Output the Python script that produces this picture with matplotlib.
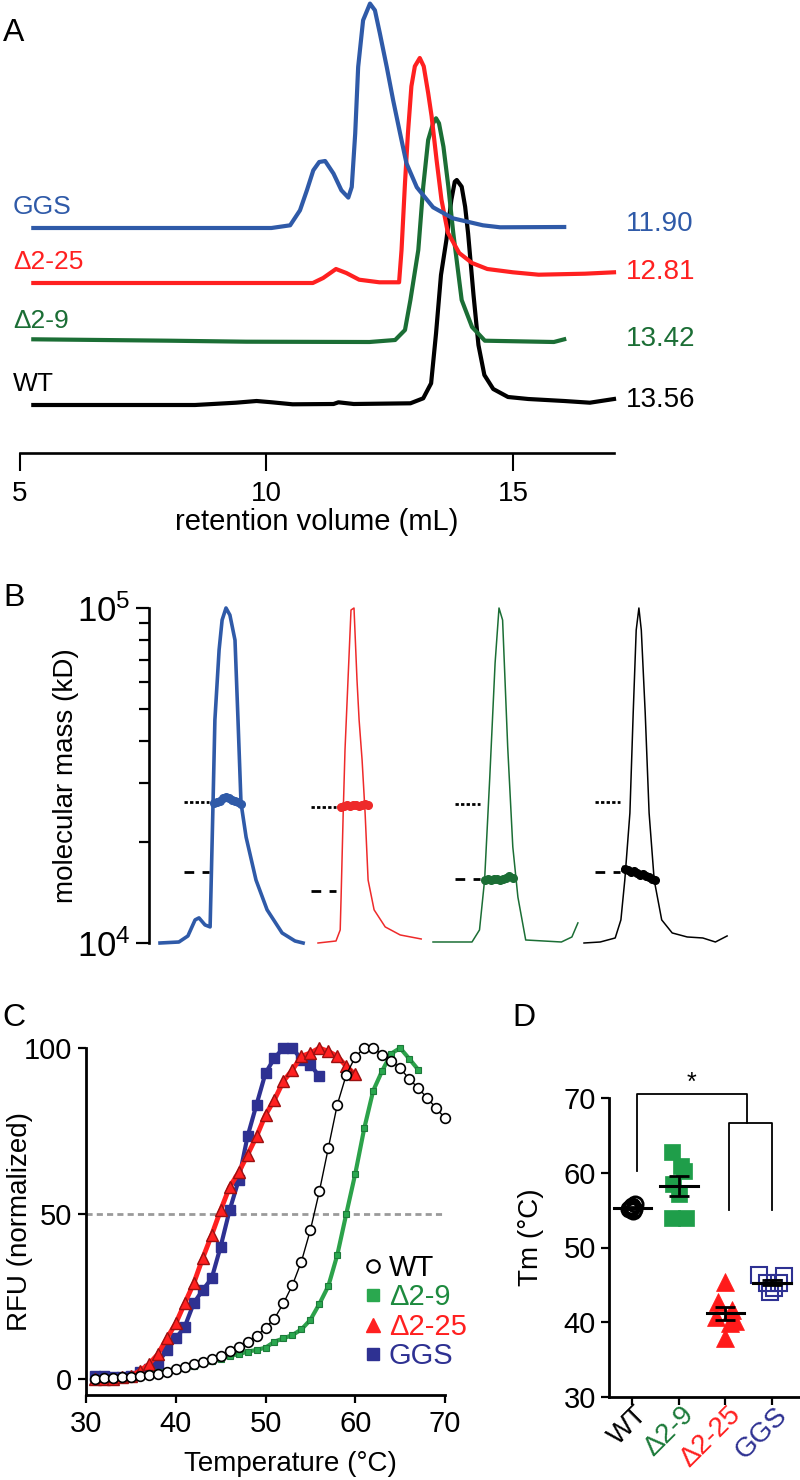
import numpy as np
import matplotlib
matplotlib.use('Agg')
import matplotlib.pyplot as plt
from matplotlib.lines import Line2D
from matplotlib.ticker import NullFormatter

plt.rcParams['font.family'] = ['Liberation Sans', 'DejaVu Sans']
plt.rcParams['axes.unicode_minus'] = False

# ---------------- DATA ----------------
# Panel A: size-exclusion chromatograms (retention volume mL, signal a.u.)
sec_names = ['WT', 'Δ2-9', 'Δ2-25', 'GGS']
sec_peak_labels = ['13.56', '13.42', '12.81', '11.90']
sec_ticks = [5, 10, 15]

sec_vol_ggs = [5.27, 10.1, 10.48, 10.68, 10.82, 10.95, 11.07, 11.19, 11.36, 11.52, 11.66, 11.73, 11.8,
               11.86, 11.96, 12.1, 12.2, 12.3, 12.44, 12.57, 12.71, 12.84, 13.05, 13.38, 13.78, 14.39,
               14.74, 16.04]
sec_sig_ggs = [0, 0, 2.7, 17.7, 37.7, 57.7, 66, 67, 54.4, 37.7, 30.4, 41, 94.4,
               161, 207.7, 224.4, 217.7, 194.7, 161, 127.7, 94.7, 64.7, 40.7, 20.7, 9.7, 2.7,
               0.7, 1]

sec_vol_d225 = [5.27, 10.94, 11.15, 11.41, 11.62, 11.88, 12.29, 12.69, 12.74, 12.81, 12.87, 12.94,
                13.01, 13.11, 13.19, 13.28, 13.35, 13.45, 13.55, 13.68, 13.91, 14.17, 14.48, 15.0,
                15.52, 16.46, 17.05]
sec_sig_d225 = [0, 0, 5, 14, 10, 3.3, 0.7, 0.7, 33, 100, 150, 196.7,
                216.7, 225, 216.7, 190, 166.7, 123.3, 83.3, 50.3, 30, 20, 14, 10.7,
                8.3, 9.3, 10.7]

sec_vol_d29 = [5.27, 8.03, 9.59, 12.09, 12.61, 12.81, 12.92, 13.08, 13.18, 13.28, 13.38, 13.44,
               13.5, 13.59, 13.69, 13.79, 13.96, 14.17, 14.43, 15.83, 16.04]
sec_sig_d29 = [2.7, 1.3, 0.3, 0, 2, 12, 42, 92, 155.3, 202, 218.7, 223.7,
               218.7, 195.3, 155.3, 108.7, 42, 15, 1.3, 0, 2.7]

sec_vol_wt = [5.27, 8.55, 9.38, 9.8, 10.11, 10.53, 11.36, 11.46, 11.77, 12.92, 13.18, 13.34, 13.44,
              13.54, 13.65, 13.75, 13.82, 13.86, 13.96, 14.03, 14.09, 14.2, 14.3, 14.42, 14.6, 14.9,
              15.31, 16.04, 16.56, 17.05]
sec_sig_wt = [0, 0, 2.3, 4, 2.7, 0.7, 1, 2.7, 1, 1.7, 6.7, 21.7, 71.7,
              130, 165, 205, 223.3, 225, 218.3, 198.3, 171.7, 110, 60, 30, 16, 8,
              6, 4, 2.3, 6]

# Panel B: SEC-MALS traces (normalized signal) and molar masses (Da)
mals_vol_ggs = [9.9, 10.53, 10.83, 11.07, 11.2, 11.4, 11.57, 11.6, 11.67, 11.73, 11.87, 11.97, 12.1,
                12.23, 12.4, 12.5, 12.6, 12.77, 13.1, 13.47, 13.97, 14.4, 14.67]
mals_sig_ggs = [0, 0.003, 0.021, 0.069, 0.075, 0.054, 0.048, 0.158, 0.427, 0.666, 0.875, 0.964, 1.0,
                0.979, 0.904, 0.666, 0.418, 0.316, 0.188, 0.099, 0.03, 0.006, 0]
mass_vol_ggs = [11.7, 11.8, 11.9, 12.0, 12.1, 12.2, 12.3, 12.4, 12.5, 12.6]
mass_ggs = [26100, 26400, 26600, 27000, 27200, 27000, 26700, 26500, 26300, 26000]

mals_vol_d225 = [11.93, 12.53, 12.67, 12.7, 12.77, 12.83, 12.93, 13.03, 13.13, 13.23, 13.3, 13.4, 13.5,
                 13.6, 13.8, 14.17, 14.67, 15.37]
mals_sig_d225 = [0, 0.006, 0.039, 0.137, 0.388, 0.576, 0.785, 0.994, 1.0, 0.785, 0.666, 0.546, 0.388,
                 0.188, 0.099, 0.048, 0.024, 0.012]
mass_vol_d225 = [12.7, 12.8, 12.9, 13.0, 13.1, 13.2, 13.3, 13.4, 13.5, 13.6]
mass_d225 = [25400, 25700, 25900, 25600, 25800, 25900, 25700, 25900, 26000, 25800]

mals_vol_d29 = [11.25, 12.55, 12.8, 12.97, 13.14, 13.32, 13.45, 13.57, 13.74, 13.91, 14.08, 14.34,
                15.53, 15.88, 16.08]
mals_sig_d29 = [0.003, 0.003, 0.039, 0.188, 0.49, 0.836, 1.0, 0.964, 0.585, 0.287, 0.137, 0.009,
                0.003, 0.018, 0.06]
mass_vol_d29 = [13.0, 13.1, 13.2, 13.3, 13.4, 13.5, 13.6, 13.7, 13.8, 13.9]
mass_d29 = [15400, 15500, 15400, 15500, 15500, 15400, 15500, 15600, 15800, 15600]

mals_vol_wt = [12.09, 12.63, 13.13, 13.32, 13.45, 13.62, 13.73, 13.83, 13.92, 14.0, 14.13, 14.26,
               14.43, 14.68, 15.03, 15.53, 16.05, 16.47, 16.86]
mals_sig_wt = [0, 0.003, 0.015, 0.069, 0.188, 0.388, 0.687, 0.934, 1.0, 0.934, 0.687, 0.388,
               0.188, 0.069, 0.03, 0.018, 0.015, 0.003, 0.021]
mass_vol_wt = [13.45, 13.55, 13.65, 13.75, 13.85, 13.95, 14.05, 14.15, 14.25, 14.35, 14.45]
mass_wt = [16600, 16500, 16300, 16400, 16200, 16000, 16100, 15800, 15700, 15500, 15400]

# reference masses (dotted = upper, dashed = lower), order GGS, Δ2-25, Δ2-9, WT
ref_upper = [26300, 25500, 26000, 26300]
ref_lower = [16300, 14300, 15500, 16300]

# Panel C: thermal melt curves
temp_wt = list(range(31, 71))
rfu_wt = [0, 0.2, 0.2, 0.5, 0.7, 0.9, 1.2, 1.5, 2.2, 3, 3.8, 4.5, 5.3, 6, 7, 8.6, 9.8, 11.3, 13, 15.5,
          18.3, 22.9, 28.4, 35.5, 45, 56.7, 69.8, 82.9, 91.9, 97.3, 100, 100, 98, 96, 94, 90.6, 88,
          84.9, 81.9, 78.8]
temp_d29 = list(range(31, 68))
rfu_d29 = [0, 0, 0.3, 0.5, 0.8, 1.0, 1.5, 2, 2.5, 3, 3.5, 4, 4.8, 5.5, 6.2, 7.0, 7.5, 8.3, 8.8, 9.5,
           11.3, 12.3, 13.3, 15, 17.9, 22.7, 28.1, 37.5, 49.9, 62, 75.7, 87.1, 93.1, 98.3, 100, 96.8,
           93.5]
temp_d225 = list(range(31, 61))
rfu_d225 = [0, 0, 0, 0.5, 1, 2.5, 4.5, 7.5, 12.3, 16.8, 22.9, 28.9, 36.5, 43.5, 51, 58, 62.4, 67.7,
            73.3, 79.8, 84.4, 90, 93.4, 97.5, 98.5, 100, 99, 97.5, 94.5, 92]
temp_ggs = list(range(31, 57))
rfu_ggs = [1, 1, 0.5, 0.5, 1, 2, 3, 4.7, 8.8, 12.3, 15.8, 22.9, 26.9, 30.4, 40, 51, 60, 73.3, 82.9,
           92.4, 97, 100, 100, 96.5, 95, 91.4]

# Panel D: Tm values
tm_groups = ['WT', 'Δ2-9', 'Δ2-25', 'GGS']
tm_wt = [55.5, 55.1, 55.8, 54.9, 55.3, 55.2]
tm_d29 = [62.8, 60.9, 60.2, 58.5, 57.2, 53.9, 54.0]
tm_d225 = [45.4, 42.7, 41.6, 40.7, 39.9, 37.9, 40.2]
tm_ggs = [46.3, 46.2, 45.3, 44.6, 44.1, 45.2]

# ---------------- STYLE / LAYOUT ----------------
C_BLUE_A = '#2f5aa8'
C_RED = '#ff2020'
C_GREEN_A = '#1b6e35'
NAVY = '#2e3192'
GREEN_L = '#2ca24a'
GREEN_F = '#2aa84f'
GREEN_E = '#1d7a3a'
RED_E = '#9b1010'

W, H = 800, 1480
fig = plt.figure(figsize=(8, 14.8), dpi=100)


def px_axes(x0, y0, x1, y1):
    return fig.add_axes([x0 / W, 1 - y1 / H, (x1 - x0) / W, (y1 - y0) / H])


def letter(x, y, s):
    fig.text(x / W, 1 - y / H, s, fontsize=23, ha='left', va='center')


# ---------------- PANEL A ----------------
axA = px_axes(20, 0, 614, 453)
axA.set_xlim(5, 17.05)
axA.set_ylim(0, 453)
axA.patch.set_visible(False)
for s in ['left', 'right', 'top']:
    axA.spines[s].set_visible(False)
axA.spines['bottom'].set_linewidth(1.9)
axA.set_yticks([])
axA.set_xticks(sec_ticks)
axA.tick_params(axis='x', direction='out', length=13, width=1.5, labelsize=20, pad=7)
axA.set_xlabel('retention volume (mL)', fontsize=21, labelpad=1)

sec_traces = [
    (sec_vol_wt, sec_sig_wt, 'black', 48),
    (sec_vol_d29, sec_sig_d29, C_GREEN_A, 111),
    (sec_vol_d225, sec_sig_d225, C_RED, 170),
    (sec_vol_ggs, sec_sig_ggs, C_BLUE_A, 225),
]
for (vol, sig, col, off), name, pk in zip(sec_traces, sec_names, sec_peak_labels):
    y = off + np.asarray(sig)
    axA.plot(vol, y, color=col, lw=3.0, clip_on=False, solid_joinstyle='round')
    axA.text(4.86, off + 21, name, color=col, fontsize=19, ha='left', va='center')
    axA.text(17.29, off + min(sig[-3:]) + 3, pk, color=col, fontsize=20, ha='left', va='center')

letter(3, 33, 'A')

# ---------------- PANEL B ----------------
B_top, B_bot = 608, 943
axBs = px_axes(149, B_top, 730, B_bot)
axBs.set_yscale('log')
axBs.set_ylim(1e4, 1e5)
axBs.patch.set_visible(False)
axBs.xaxis.set_visible(False)
for s in ['right', 'top', 'bottom']:
    axBs.spines[s].set_visible(False)
axBs.spines['left'].set_linewidth(1.9)
axBs.yaxis.set_minor_formatter(NullFormatter())
axBs.tick_params(axis='y', which='major', length=9.5, width=1.6, labelsize=25, pad=4)
axBs.tick_params(axis='y', which='minor', length=7.5, width=1.6)
axBs.set_ylabel('molecular mass (kD)', fontsize=20)
axBs.yaxis.set_label_coords(-0.12, 0.5)

B_left = [160, 318, 433, 584]
B_scale = 30.0
mals = [
    (mals_vol_ggs, mals_sig_ggs, mass_vol_ggs, mass_ggs, C_BLUE_A, 2.6),
    (mals_vol_d225, mals_sig_d225, mass_vol_d225, mass_d225, '#ee2a2a', 1.1),
    (mals_vol_d29, mals_sig_d29, mass_vol_d29, mass_d29, C_GREEN_A, 1.1),
    (mals_vol_wt, mals_sig_wt, mass_vol_wt, mass_wt, 'black', 1.1),
]
for i, (vol, sig, mv, mm, col, lw) in enumerate(mals):
    x0 = B_left[i]
    x1 = x0 + (max(vol) - min(vol)) * B_scale
    axt = px_axes(x0, B_top, x1, B_bot)
    axt.set_xlim(min(vol), max(vol))
    axt.set_ylim(0, 1)
    axt.axis('off')
    axt.plot(vol, sig, color=col, lw=lw, clip_on=False)
    axm = px_axes(x0, B_top, x1, B_bot)
    axm.set_xlim(min(vol), max(vol))
    axm.set_yscale('log')
    axm.set_ylim(1e4, 1e5)
    axm.axis('off')
    st = mv[0]
    axm.plot([st - 1.0, st - 0.17], [ref_upper[i]] * 2, color='black', lw=2,
             ls=(0, (1.2, 0.8)), clip_on=False)
    axm.plot([st - 1.0, st - 0.17], [ref_lower[i]] * 2, color='black', lw=2,
             ls=(0, (3.5, 3)), clip_on=False)
    axm.plot(mv, mm, color=col, lw=4.5, marker='o', ms=5.5, clip_on=False)

letter(3, 598, 'B')

# ---------------- PANEL C ----------------
axC = px_axes(86, 1048, 445, 1395)
axC.set_xlim(30, 70)
axC.set_ylim(-4.8, 100)
axC.patch.set_visible(False)
for s in ['right', 'top']:
    axC.spines[s].set_visible(False)
for s in ['left', 'bottom']:
    axC.spines[s].set_linewidth(2.0)
axC.set_xticks([30, 40, 50, 60, 70])
axC.set_yticks([0, 50, 100])
axC.tick_params(direction='out', length=6, width=1.6, labelsize=21)
axC.tick_params(axis='x', pad=5)
axC.tick_params(axis='y', pad=4)
axC.axhline(50, color='#9a9a9a', lw=2, ls=(0, (2.2, 1.5)), zorder=1)

axC.plot(temp_ggs, rfu_ggs, color=NAVY, lw=3, marker='s', ms=7, mfc=NAVY, mec=NAVY,
         clip_on=False, zorder=3)
axC.plot(temp_d225, rfu_d225, color=C_RED, lw=3.5, marker='^', ms=8, mfc=C_RED, mec=RED_E,
         mew=1.0, clip_on=False, zorder=4)
axC.plot(temp_d29, rfu_d29, color=GREEN_L, lw=3, marker='s', ms=5, mfc=GREEN_F, mec=GREEN_E,
         mew=0.8, clip_on=False, zorder=5)
axC.plot(temp_wt, rfu_wt, color='black', lw=1.0, marker='o', ms=7, mfc='white', mec='black',
         mew=1.2, clip_on=False, zorder=6)

axC.set_xlabel('Temperature (°C)', fontsize=20)
axC.xaxis.set_label_coords(0.57, -0.16)
axC.set_ylabel('RFU (normalized)', fontsize=20)
axC.yaxis.set_label_coords(-0.148, 0.5)

leg_handles = [
    Line2D([], [], ls='none', marker='o', ms=9, mfc='white', mec='black', mew=1.5),
    Line2D([], [], ls='none', marker='s', ms=8, mfc=GREEN_F, mec=GREEN_F),
    Line2D([], [], ls='none', marker='^', ms=10, mfc=C_RED, mec=C_RED),
    Line2D([], [], ls='none', marker='s', ms=9, mfc=NAVY, mec=NAVY),
]
leg = axC.legend(leg_handles, sec_names, loc='upper left',
                 bbox_to_anchor=(364 / W, 1 - 1254 / H), bbox_transform=fig.transFigure,
                 frameon=False, fontsize=21, handlelength=0.6, handletextpad=0.25,
                 labelspacing=0.05, borderpad=0, borderaxespad=0)
for t, c in zip(leg.get_texts(), ['black', '#1d8a3e', C_RED, NAVY]):
    t.set_color(c)

letter(2, 1018, 'C')

# ---------------- PANEL D ----------------
axD = px_axes(609, 1098, 800, 1397)
axD.set_xlim(-0.5, 3.6)
axD.set_ylim(30, 70)
axD.patch.set_visible(False)
for s in ['right', 'top']:
    axD.spines[s].set_visible(False)
for s in ['left', 'bottom']:
    axD.spines[s].set_linewidth(2.0)
axD.set_yticks([30, 40, 50, 60, 70])
axD.set_xticks(range(4))
axD.set_xticklabels([])
axD.tick_params(direction='out', length=6, width=1.6, labelsize=21)
for i, (lab, c) in enumerate(zip(tm_groups, ['black', GREEN_E, C_RED, NAVY])):
    axD.annotate(lab, xy=(i, 0), xycoords=('data', 'axes fraction'), xytext=(8, -10),
                 textcoords='offset points', rotation=45, ha='right', va='center',
                 rotation_mode='anchor', fontsize=20, color=c, annotation_clip=False)
axD.set_ylabel('Tm (°C)', fontsize=20)
axD.yaxis.set_label_coords(-0.34, 0.535)

jit_wt = [0.0, -0.06, 0.05, 0.02, -0.03, 0.04]
jit_d29 = [-0.15, 0.05, 0.12, -0.12, 0.0, -0.15, 0.15]
jit_d225 = [0.0, -0.15, 0.15, -0.2, 0.1, 0.0, 0.2]
jit_ggs = [-0.28, 0.25, -0.1, 0.05, -0.05, 0.15]

groups = [
    (tm_wt, jit_wt, dict(marker='o', ms=11, mfc='none', mec='black', mew=2)),
    (tm_d29, jit_d29, dict(marker='s', ms=11, mfc='#1f9e4a', mec='#1f9e4a', mew=0.5)),
    (tm_d225, jit_d225, dict(marker='^', ms=13, mfc='#ff1a1a', mec='#ff1a1a', mew=0.5)),
    (tm_ggs, jit_ggs, dict(marker='s', ms=11, mfc='none', mec=NAVY, mew=1.5)),
]
for i, (vals, jit, st) in enumerate(groups):
    xs = i + np.asarray(jit)
    axD.plot(xs, vals, ls='none', clip_on=False, zorder=3, **st)
    m = np.mean(vals)
    sem = np.std(vals, ddof=1) / np.sqrt(len(vals))
    axD.plot([i - 0.4, i + 0.4], [m, m], color='black', lw=2.2, zorder=4)
    axD.errorbar([i], [m], yerr=[sem], color='black', lw=2, capsize=7, capthick=2, zorder=4)

# significance brackets
axD.plot([0.1, 0.1, 2.46, 2.46], [60.2, 70.5, 70.5, 66.6], color='black', lw=1.3, clip_on=False)
axD.plot([2.08, 2.08, 3.0, 3.0], [55.0, 66.6, 66.6, 55.0], color='black', lw=1.3, clip_on=False)
axD.text(1.28, 72.0, '*', fontsize=18, ha='center', va='center')

letter(512, 1018, 'D')

fig.savefig('out.png', dpi=100)
